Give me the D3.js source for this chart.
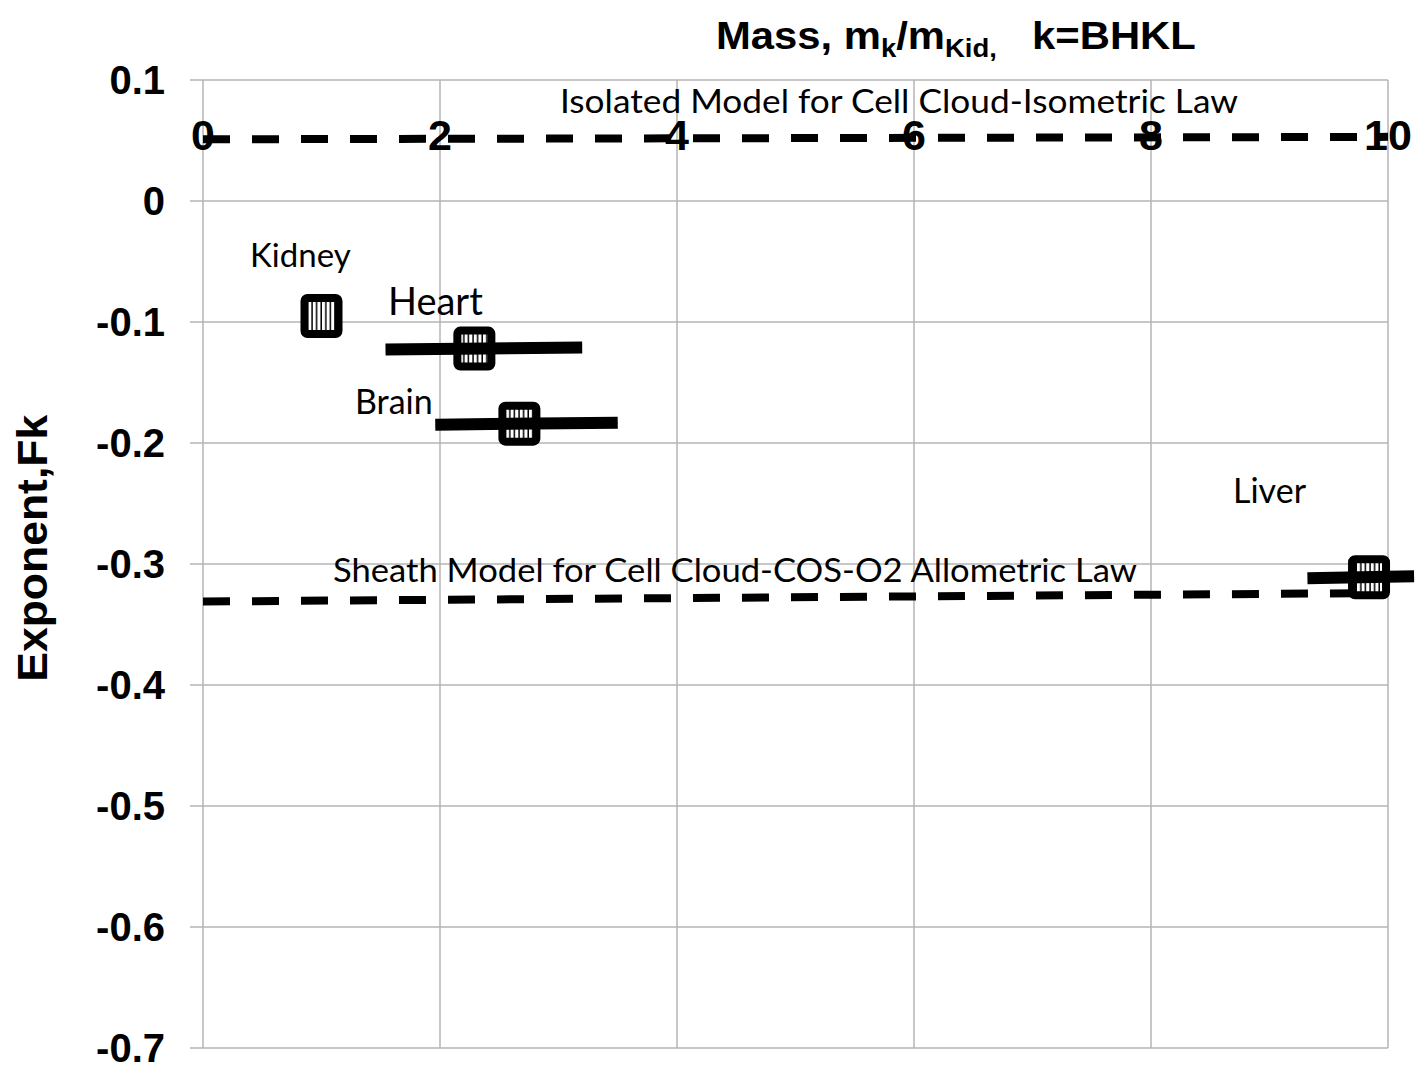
<!DOCTYPE html>
<html>
<head>
<meta charset="utf-8">
<script src="https://cdn.jsdelivr.net/npm/d3@7"></script>
<style>
  body { margin: 0; background: #fff; }
  svg { display: block; }
</style>
</head>
<body>
<div class="plot-container"></div>
<script>
// organ points (mass relative to kidney vs exponent)
const organs = ["Kidney", "Heart", "Brain", "Liver"];
const massRatio = [1.0, 2.29, 2.67, 9.84];
const exponentFk = [-0.095, -0.122, -0.184, -0.311];
// horizontal bars through the markers (null = none)
const massLow = [null, 1.54, 1.96, 9.32];
const massHigh = [null, 3.2, 3.5, 10.22];

// model reference lines
const modelX = [0, 10];
const isolatedY = [0.051, 0.053];
const sheathY = [-0.331, -0.324];
const modelLabels = [
  "Isolated Model for Cell Cloud-Isometric Law",
  "Sheath Model for Cell Cloud-COS-O2 Allometric Law"
];

const xTicks = [0, 2, 4, 6, 8, 10];
const yTicks = [0.1, 0, -0.1, -0.2, -0.3, -0.4, -0.5, -0.6, -0.7];

const width = 1428, height = 1078;
const GRID_COLOR = "#b4b4b4";
const LABEL_FONT = "Lato, 'Open Sans', sans-serif";
const AXIS_FONT = "'Liberation Sans', Arial, sans-serif";

const x = d3.scaleLinear().domain([0, 10]).range([203, 1388]);
const y = d3.scaleLinear().domain([-0.7, 0.1]).range([1048, 80]);

const svg = d3.select("div.plot-container").append("svg")
  .attr("width", width)
  .attr("height", height);

// striped fill for the markers
const defs = svg.append("defs");
const pat = defs.append("pattern")
  .attr("id", "stripes")
  .attr("patternUnits", "userSpaceOnUse")
  .attr("width", 4.6)
  .attr("height", 10);
pat.append("rect").attr("width", 4.6).attr("height", 10).attr("fill", "#fff");
pat.append("rect").attr("x", 3.1).attr("width", 1.5).attr("height", 10).attr("fill", "#000");

// gridlines
svg.append("g")
  .selectAll("line")
  .data(yTicks)
  .enter()
  .append("line")
  .attr("x1", x(0) - 13)
  .attr("x2", x(10))
  .attr("y1", d => y(d))
  .attr("y2", d => y(d))
  .attr("stroke", GRID_COLOR)
  .attr("stroke-width", 1.5);

svg.append("g")
  .selectAll("line")
  .data(xTicks)
  .enter()
  .append("line")
  .attr("x1", d => x(d))
  .attr("x2", d => x(d))
  .attr("y1", y(0.1))
  .attr("y2", y(-0.7))
  .attr("stroke", GRID_COLOR)
  .attr("stroke-width", 1.5);

// y tick labels
svg.append("g")
  .selectAll("text")
  .data(yTicks)
  .enter()
  .append("text")
  .attr("x", 165)
  .attr("y", d => y(d))
  .attr("dy", "0.36em")
  .attr("text-anchor", "end")
  .style("font-family", AXIS_FONT)
  .style("font-weight", "bold")
  .style("font-size", "40px")
  .text(d => d === 0 ? "0" : d3.format(".1f")(d).replace("−", "-"));

// y title
svg.append("text")
  .attr("transform", `translate(47,${y(-0.287)}) rotate(-90)`)
  .attr("text-anchor", "middle")
  .attr("textLength", 267)
  .attr("lengthAdjust", "spacingAndGlyphs")
  .style("font-family", AXIS_FONT)
  .style("font-weight", "bold")
  .style("font-size", "42px")
  .text("Exponent,Fk");

// x title at the top (glyphs are a bit stretched in the original)
const title = svg.append("text")
  .attr("transform", "translate(716,49) scale(1.1,1)")
  .style("font-family", AXIS_FONT)
  .style("font-weight", "bold")
  .style("font-size", "38px");
title.append("tspan").text("Mass, m");
title.append("tspan").attr("dy", 8).style("font-size", "25px").text("k");
title.append("tspan").attr("dy", -8).text("/m");
title.append("tspan").attr("dy", 8).style("font-size", "25px").text("Kid,");
title.append("tspan").attr("dy", -8).attr("dx", 32).text("k=BHKL");

// model lines (dashed)
const modelLine = d3.line().x(d => x(d[0])).y(d => y(d[1]));
[isolatedY, sheathY].forEach(ys => {
  svg.append("path")
    .attr("d", modelLine(modelX.map((v, i) => [v, ys[i]])))
    .attr("fill", "none")
    .attr("stroke", "#000")
    .attr("stroke-width", 8)
    .attr("stroke-dasharray", "27,22");
});

// x tick labels sit on the isolated line
svg.append("g")
  .selectAll("text")
  .data(xTicks)
  .enter()
  .append("text")
  .attr("x", d => x(d))
  .attr("y", y(0.055))
  .attr("dy", "0.36em")
  .attr("text-anchor", "middle")
  .style("font-family", AXIS_FONT)
  .style("font-weight", "bold")
  .style("font-size", "43px")
  .text(d => d);

// model labels
svg.append("text")
  .attr("x", 560)
  .attr("y", y(0.0725))
  .attr("textLength", 678)
  .attr("lengthAdjust", "spacingAndGlyphs")
  .style("font-family", LABEL_FONT)
  .style("font-size", "32px")
  .text(modelLabels[0]);

svg.append("text")
  .attr("x", 333)
  .attr("y", y(-0.315))
  .attr("textLength", 804)
  .attr("lengthAdjust", "spacingAndGlyphs")
  .style("font-family", LABEL_FONT)
  .style("font-size", "32px")
  .text(modelLabels[1]);

// markers
const points = organs.map((name, i) => ({
  name,
  mass: massRatio[i],
  fk: exponentFk[i],
  lo: massLow[i],
  hi: massHigh[i]
}));

const MARK_W = 34, MARK_H = 36;
svg.append("g")
  .selectAll("rect")
  .data(points)
  .enter()
  .append("rect")
  .attr("x", d => x(d.mass) - MARK_W / 2)
  .attr("y", d => y(d.fk) - MARK_H / 2)
  .attr("width", MARK_W)
  .attr("height", MARK_H)
  .attr("rx", 3)
  .attr("fill", "url(#stripes)")
  .attr("stroke", "#000")
  .attr("stroke-width", 8);

// bars drawn over the markers
svg.append("g")
  .selectAll("line")
  .data(points.filter(d => d.lo !== null))
  .enter()
  .append("line")
  .attr("x1", d => x(d.lo))
  .attr("x2", d => x(d.hi))
  .attr("y1", d => y(d.fk) + 1)
  .attr("y2", d => y(d.fk) - 1)
  .attr("stroke", "#000")
  .attr("stroke-width", 12);

// organ labels
const labelPos = {
  Kidney: { x: 250, y: 267, size: 33 },
  Heart: { x: 388, y: 315, size: 38 },
  Brain: { x: 355, y: 414, size: 34 },
  Liver: { x: 1233, y: 503, size: 34 }
};
svg.append("g")
  .selectAll("text")
  .data(points)
  .enter()
  .append("text")
  .attr("x", d => labelPos[d.name].x)
  .attr("y", d => labelPos[d.name].y)
  .style("font-family", LABEL_FONT)
  .style("font-size", d => labelPos[d.name].size + "px")
  .text(d => d.name);
</script>
</body>
</html>
